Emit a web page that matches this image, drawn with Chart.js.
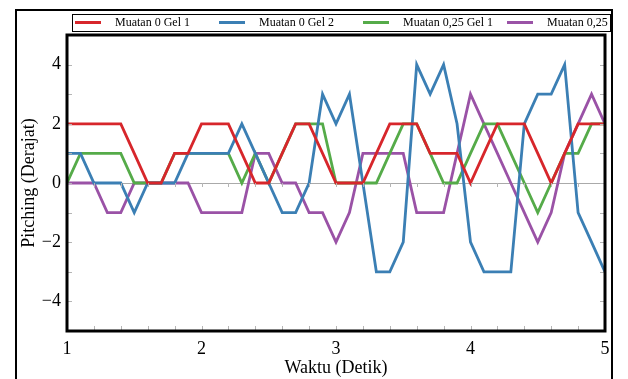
<!DOCTYPE html>
<html>
<head>
<meta charset="utf-8">
<script src="https://cdn.jsdelivr.net/npm/chart.js@4/dist/chart.umd.min.js"></script>
<style>
  body { margin: 0; background: #fff; }
</style>
</head>
<body>
<canvas id="pitchingChart" width="628" height="379"></canvas>
<script>
// waktu (detik), one point every 0.1 s
const waktu = [1.0, 1.1, 1.2, 1.3, 1.4, 1.5, 1.6, 1.7, 1.8, 1.9,
               2.0, 2.1, 2.2, 2.3, 2.4, 2.5, 2.6, 2.7, 2.8, 2.9,
               3.0, 3.1, 3.2, 3.3, 3.4, 3.5, 3.6, 3.7, 3.8, 3.9,
               4.0, 4.1, 4.2, 4.3, 4.4, 4.5, 4.6, 4.7, 4.8, 4.9, 5.0];

const muatan0Gel1 = [2, 2, 2, 2, 2, 1, 0, 0, 1, 1,
                     2, 2, 2, 1, 0, 0, 1, 2, 2, 1,
                     0, 0, 0, 1, 2, 2, 2, 1, 1, 1,
                     0, 1, 2, 2, 2, 1, 0, 1, 2, 2, 2];
const muatan0Gel2 = [1, 1, 0, 0, 0, -1, 0, 0, 0, 1,
                     1, 1, 1, 2, 1, 0, -1, -1, 0, 3,
                     2, 3, 0, -3, -3, -2, 4, 3, 4, 2,
                     -2, -3, -3, -3, 2, 3, 3, 4, -1, -2, -3];
const muatan025Gel1 = [0, 1, 1, 1, 1, 0, 0, 0, 1, 1,
                       1, 1, 1, 0, 1, 0, 1, 2, 2, 2,
                       0, 0, 0, 0, 1, 2, 2, 1, 0, 0,
                       1, 2, 2, 1, 0, -1, 0, 1, 1, 2, 2];
const muatan025Gel2 = [0, 0, 0, -1, -1, 0, 0, 0, 0, 0,
                       -1, -1, -1, -1, 1, 1, 0, 0, -1, -1,
                       -2, -1, 1, 1, 1, 1, -1, -1, -1, 1,
                       3, 2, 1, 0, -1, -2, -1, 1, 2, 3, 2];

const seriesLabels = ['Muatan 0 Gel 1', 'Muatan 0 Gel 2', 'Muatan 0,25 Gel 1', 'Muatan 0,25 Gel 2'];
const seriesColors = ['#d7262b', '#3b7fb4', '#55ab49', '#9a52a6'];
const xTicks = [1, 2, 3, 4, 5];
const yTicks = [-4, -2, 0, 2, 4];

Chart.defaults.font.family = "'Liberation Serif', 'Times New Roman', serif";
Chart.defaults.font.size = 18;
Chart.defaults.color = '#000';

function makeSeries(values) {
    return values.map((v, i) => ({x: waktu[i], y: v}));
}

const allSeries = [muatan0Gel1, muatan0Gel2, muatan025Gel1, muatan025Gel2];

// outer frame, legend box and the plot border
const framePlugin = {
    id: 'frame',
    afterDraw(chart) {
        const ctx = chart.ctx;
        const a = chart.chartArea;
        const xs = chart.scales.x;
        const ys = chart.scales.y;
        ctx.save();

        // small inner tick marks
        ctx.strokeStyle = '#b5b5b5';
        ctx.lineWidth = 1;
        ctx.beginPath();
        for (let v = -5; v <= 5; v++) {
            const py = Math.round(ys.getPixelForValue(v)) + 0.5;
            ctx.moveTo(a.left, py); ctx.lineTo(a.left + 5, py);
            ctx.moveTo(a.right, py); ctx.lineTo(a.right - 5, py);
        }
        const zeroY = ys.getPixelForValue(0);
        for (let k = 0; k <= 20; k++) {
            const px = Math.round(xs.getPixelForValue(1 + k * 0.2)) + 0.5;
            ctx.moveTo(px, a.bottom); ctx.lineTo(px, a.bottom - 5);
            ctx.moveTo(px, zeroY); ctx.lineTo(px, zeroY + 4);
        }
        ctx.stroke();

        // plot border
        ctx.strokeStyle = '#000';
        ctx.lineWidth = 3;
        ctx.strokeRect(a.left, a.top, a.right - a.left, a.bottom - a.top);

        // outer frame
        ctx.lineWidth = 2;
        ctx.beginPath();
        ctx.moveTo(16, 379); ctx.lineTo(16, 10); ctx.lineTo(612, 10); ctx.lineTo(612, 379);
        ctx.stroke();

        // legend
        ctx.lineWidth = 1;
        ctx.strokeRect(72.5, 14.5, 538, 17);
        ctx.beginPath();
        ctx.rect(72, 12, 538, 22);
        ctx.clip();
        ctx.font = "12px 'Liberation Serif', serif";
        ctx.textBaseline = 'middle';
        ctx.fillStyle = '#000';
        seriesLabels.forEach((label, i) => {
            const x0 = 75 + i * 144;
            ctx.strokeStyle = seriesColors[i];
            ctx.lineWidth = 3;
            ctx.beginPath();
            ctx.moveTo(x0, 22.5); ctx.lineTo(x0 + 26, 22.5);
            ctx.stroke();
            ctx.fillText(label, x0 + 40, 23);
        });
        ctx.restore();
    }
};

const ctx = document.getElementById('pitchingChart');

const pitchingChart = new Chart(ctx, {
    type: 'line',
    data: {
        datasets: allSeries.map((values, i) => ({
            label: seriesLabels[i],
            data: makeSeries(values),
            borderColor: seriesColors[i],
            backgroundColor: seriesColors[i],
            borderWidth: 2.8,
            pointRadius: 0,
            tension: 0
        }))
    },
    options: {
        responsive: false,
        animation: false,
        layout: {
            padding: {top: 35, right: 23, left: 0, bottom: 0}
        },
        scales: {
            x: {
                type: 'linear',
                min: 1,
                max: 5,
                afterFit(scale) { scale.height = 48; },
                afterBuildTicks(scale) { scale.ticks = xTicks.map(v => ({value: v})); },
                grid: {display: false, drawTicks: false},
                border: {display: false},
                ticks: {padding: 7, maxRotation: 0},
                title: {
                    display: true,
                    text: 'Waktu (Detik)',
                    padding: {top: 0, bottom: 0}
                }
            },
            y: {
                min: -5,
                max: 5,
                afterFit(scale) { scale.width = 67; },
                afterBuildTicks(scale) { scale.ticks = yTicks.map(v => ({value: v})); },
                grid: {
                    drawTicks: false,
                    color: c => c.tick && c.tick.value === 0 ? '#aaaaaa' : 'rgba(0,0,0,0)'
                },
                border: {display: false},
                ticks: {
                    padding: 6,
                    callback: v => v < 0 ? '\u2212' + Math.abs(v) : String(v)
                },
                title: {
                    display: true,
                    text: 'Pitching (Derajat)',
                    padding: {top: 18, bottom: 0}
                }
            }
        },
        plugins: {
            legend: {display: false},
            tooltip: {enabled: false}
        }
    },
    plugins: [framePlugin]
});
</script>
</body>
</html>
